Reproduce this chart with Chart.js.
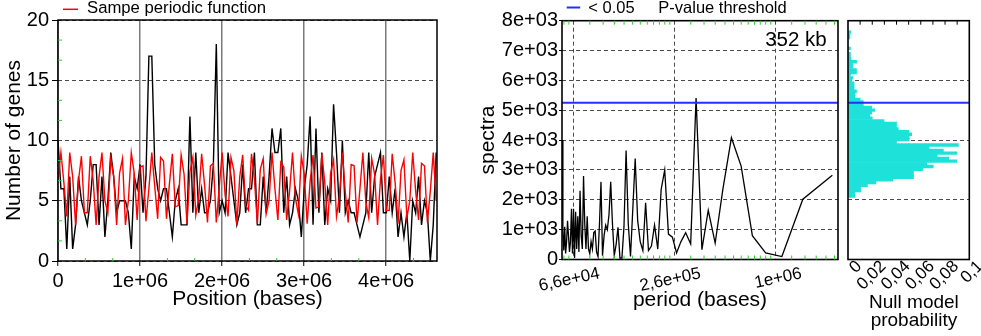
<!DOCTYPE html>
<html>
<head>
<meta charset="utf-8">
<title>Gene periodicity</title>
<script src="https://cdn.jsdelivr.net/npm/chart.js@4.4.1/dist/chart.umd.min.js"></script>
<style>
  html, body { margin: 0; padding: 0; background: #fff; }
  body { width: 981px; height: 336px; position: relative; overflow: hidden; }
  canvas { position: absolute; top: 0; }
  #genes { left: 0; }
  #spectrum { left: 470px; }
  #nullModel { left: 842px; }
</style>
</head>
<body>
<canvas id="genes" width="445" height="336"></canvas>
<canvas id="spectrum" width="372" height="336"></canvas>
<canvas id="nullModel" width="139" height="336"></canvas>
<script>
// ---------------- data ----------------
const WINDOW_BASES = 35736;            // genome window size (bases)
const GENOME_AXIS_MAX = 4620000;

const geneCounts = [
  10,6,6,1,7,1,3,7,5,4,3,5,8,8,3,7,2,5,9,7,4,5,5,5,4,1,7,6,8,4,7,17,17,
  8,6,5,6,6,4,2,5,6,3,3,3,12,4,9,4,6,4,4,5,8,18,4,5,4,9,7,5,3,4,8,
  4,6,6,9,3,3,7,4,7,11,9,9,11,4,7,3,4,6,5,2,6,8,12,3,11,4,9,3,6,5,13,9,4,10,
  4,5,4,4,3,2,3,4,9,4,7,8,9,4,4,7,4,6,2,4,2,4,0,5,4,7,3,5,4,0,3,9
];

const periodicFunction = [
  6.7,
  9,6.5,3.7,9,7,3,6.7,
  8.7,4,4,8.7,6.7,3,7,
  9,5,4,8.5,7,3,7.3,
  8.5,3,5,9,7.3,3.4,7.8,
  7.9,3.3,6,9,6.2,3.5,8.6,
  8.3,3.5,6.4,8.9,4.5,4.6,8.8,
  7.2,3.1,7.4,8.6,3.8,5.2,8.9,
  6.3,3.2,7.9,8.1,3.2,6.1,9,
  5.5,3.7,8.6,7.5,3,7,8.8,
  4.6,4.2,8.9,6.8,3.1,7.6,8.5,
  3.9,5,9,6,3.4,8.2,7.8,
  3.4,5.8,9,5.2,3.9,8.7,7.2,
  3.1,6.6,8.8,4.4,4.5,8.9,6.5,
  3,7.3,8.4,3.7,5.3,9,5.7,
  3.2,8,7.9,3.2,6,9,4.9,
  3.6,8.5,7.2,3,6.8,8.8,4.2,
  4.2,8.9,6.5,3.1,7.5,8.4,3.6,
  5,9,5.8,3.4,8.1,7.9,3.2,
  5.8,9,5
];
const positionTickValues = [0, 1000000, 2000000, 3000000, 4000000];
const positionTickLabels = ['0', '1e+06', '2e+06', '3e+06', '4e+06'];

const periods = [
  55854, 56543, 57250, 57975, 58718, 59481, 60263, 61067, 61892, 62740,
  63611, 64507, 65429, 66377, 67353, 68358, 69394, 70462, 71563, 72698,
  73871, 75082, 76333, 77627, 78966, 80351, 81786, 83273, 84815, 86415,
  88077, 89804, 91600, 93469, 95417, 97447, 99565, 101778, 104091, 106512,
  109048, 111707, 114500, 117436, 120526, 123784, 127222, 130857, 134706, 138788,
  143125, 147742, 152667, 157931, 163571, 169630, 176154, 183200, 190833, 199130,
  208182, 218095, 229000, 241053, 254444, 269412, 286250, 305333, 327143, 352308,
  381667, 416364, 458000, 508889, 572500, 654286, 763333, 916000, 1145000, 1526667,
  2290000
];
const spectra = [
  4000, 900, 300, 1100, 200, 600, 1300, 800, 250, 600,
  1700, 200, 1700, 50, 1600, 350, 1450, 250, 2300, 800,
  350, 2800, 1200, 350, 1450, 350, 200, 600, 350, 900,
  950, 250, 100, 1200, 2600, 130, 800, 1150, 1000, 1500,
  2600, 1200, 130, 500, 1080, 50, 50, 1100, 3650, 1200,
  100, 1700, 3380, 1300, 600, 300, 1900, 300, 450, 1150,
  350, 2350, 3000, 850, 750, 220, 600, 900, 520, 5410,
  330, 1650, 550, 2350, 4080, 3130, 800, 220, 100, 2020,
  2820
];
const pValueThreshold = 5250;
const PERIOD_AXIS_MIN = 55854;
const PERIOD_AXIS_MAX = 2475000;
const periodTickValues = [65500, 262000, 1048000];
const periodTickLabels = ['6,6e+04', '2,6e+05', '1e+06'];
const spectraTickLabels = ['0','1e+03','2e+03','3e+03','4e+03','5e+03','6e+03','7e+03','8e+03'];

const nullBinCenters = [
  2125, 2215, 2305, 2395, 2485, 2575, 2665, 2755, 2845, 2935,
  3025, 3115, 3205, 3295, 3385, 3475, 3565, 3655, 3745, 3835,
  3925, 4015, 4105, 4195, 4285, 4375, 4465, 4555, 4645, 4735,
  4825, 4915, 5005, 5095, 5185, 5275, 5365, 5455, 5545, 5635,
  5725, 5815, 5905, 5995, 6085, 6175, 6265, 6355, 6445, 6535,
  6625, 6715, 6805, 6895, 6985, 7075, 7165, 7255, 7345, 7435,
  7525, 7615
];
const nullProbability = [
  0.0058, 0.0058, 0.0104, 0.0104, 0.016, 0.023, 0.037, 0.054, 0.054, 0.054,
  0.0615, 0.0703, 0.065, 0.0896, 0.083, 0.0735, 0.0896, 0.0786, 0.0668, 0.091,
  0.040, 0.0505, 0.0505, 0.0525, 0.050, 0.0415, 0.040, 0.040, 0.0297, 0.020,
  0.018, 0.0195, 0.022, 0.0195, 0.0126, 0.0126, 0.010, 0.0058, 0.0058, 0.007,
  0.005, 0.005, 0.005, 0.003, 0.004, 0.002, 0.007, 0.007, 0.0038, 0.0038,
  0.0071, 0.0025, 0.002, 0.002, 0, 0.002, 0, 0, 0, 0.0016,
  0.0016, 0.0022
];
const probabilityTickLabels = ['0', '0,02', '0,04', '0,06', '0,08', '0,1'];

// ---------------- styling ----------------
const FONT = '"Liberation Sans", Arial, Helvetica, sans-serif';
const RED = '#ff0000';
const BLUE = '#2030ff';
const CYAN = '#1ee2da';
const GRID = '#4a4a4a';
const GREEN = '#2ecc2e';
Chart.defaults.font.family = FONT;
Chart.defaults.color = '#000';

const framePlugin = {
  id: 'frame',
  afterDatasetsDraw(chart, args, opts) {
    const {ctx, chartArea: a} = chart;
    ctx.save();
    ctx.strokeStyle = opts.color || '#000';
    ctx.lineWidth = opts.width || 1.5;
    ctx.strokeRect(a.left, a.top, a.right - a.left, a.bottom - a.top);
    ctx.restore();
  }
};

const minorTickPlugin = {
  id: 'minorTicks',
  afterDatasetsDraw(chart, args, opts) {
    const {ctx, chartArea: a} = chart;
    ctx.save();
    (opts.marks || []).forEach(m => {
      const scale = chart.scales[m.axis];
      ctx.strokeStyle = m.color;
      ctx.lineWidth = m.width || 1;
      ctx.beginPath();
      m.values.forEach(v => {
        const p = scale.getPixelForValue(v);
        if (m.side === 'left') { ctx.moveTo(a.left, p); ctx.lineTo(a.left + m.len, p); }
        else if (m.side === 'right') { ctx.moveTo(a.right, p); ctx.lineTo(a.right - m.len, p); }
        else if (m.side === 'top') { ctx.moveTo(p, a.top); ctx.lineTo(p, a.top + m.len); }
        else { ctx.moveTo(p, a.bottom); ctx.lineTo(p, a.bottom - m.len); }
      });
      ctx.stroke();
    });
    ctx.restore();
  }
};

const labelPlugin = {
  id: 'keyLabels',
  afterDraw(chart, args, opts) {
    const ctx = chart.ctx;
    ctx.save();
    (opts.keys || []).forEach(k => {
      ctx.strokeStyle = k.color;
      ctx.lineWidth = k.width || 1.5;
      ctx.beginPath();
      ctx.moveTo(k.x, k.y);
      ctx.lineTo(k.x + k.len, k.y);
      ctx.stroke();
    });
    (opts.texts || []).forEach(t => {
      ctx.font = t.size + 'px ' + FONT;
      ctx.fillStyle = '#000';
      ctx.textAlign = t.align || 'left';
      ctx.textBaseline = 'middle';
      ctx.fillText(t.text, t.x, t.y);
    });
    ctx.restore();
  }
};

function fixX(height) {
  return s => { s.height = height; s.paddingLeft = 0; s.paddingRight = 0; };
}
function fixY(width) {
  return s => { s.width = width; s.paddingTop = 0; s.paddingBottom = 0; };
}
function minorBetween(step, parts, max, skipEvery) {
  const out = [];
  for (let k = 1; k * step / parts < max; k++) {
    if (k % skipEvery !== 0) out.push(k * step / parts);
  }
  return out;
}

const common = {
  responsive: false,
  animation: false,
  devicePixelRatio: 1,
  events: [],
};

// ---------------- panel 1: genes along the genome ----------------
const positions = geneCounts.map((_, i) => i * WINDOW_BASES);

new Chart(document.getElementById('genes'), {
  type: 'line',
  data: {
    datasets: [
      {
        label: 'Sampe periodic function',
        data: periodicFunction.map((v, i) => ({x: positions[i], y: v})),
        borderColor: RED, borderWidth: 1.4, pointRadius: 0, tension: 0
      },
      {
        label: 'Number of genes',
        data: geneCounts.map((v, i) => ({x: positions[i], y: v})),
        borderColor: '#000', borderWidth: 1.4, pointRadius: 0, tension: 0
      }
    ]
  },
  options: Object.assign({}, common, {
    layout: { padding: { top: 20, right: 8, bottom: 24.4, left: 0 } },
    plugins: {
      legend: { display: false },
      tooltip: { enabled: false },
      frame: { width: 1.5 },
      minorTicks: {
        marks: [
          { axis: 'y', side: 'left', len: 4, color: GREEN, values: minorBetween(5, 3, 20, 3) },
          { axis: 'x', side: 'bottom', len: 3, color: GREEN, values: minorBetween(1000000, 3, GENOME_AXIS_MAX, 3) }
        ]
      },
      keyLabels: {
        keys: [{ x: 63, y: 9.3, len: 15, color: RED }],
        texts: [{ text: 'Sampe periodic function', x: 87, y: 8.5, size: 16.7 }]
      }
    },
    scales: {
      x: {
        type: 'linear', min: 0, max: GENOME_AXIS_MAX,
        afterBuildTicks: s => { s.ticks = positionTickValues.map(v => ({value: v})); },
        ticks: { callback: (v, i) => positionTickLabels[i], font: {size: 20}, padding: 3, maxRotation: 0, autoSkip: false },
        grid: { color: '#7a7a7a', lineWidth: 1.5, tickLength: 5, tickColor: '#000', tickWidth: 1 },
        border: { display: false },
        title: { display: true, text: 'Position (bases)', font: {size: 21}, padding: 0 },
        afterFit: fixX(50.6)
      },
      y: {
        min: 0, max: 20,
        ticks: { stepSize: 5, font: {size: 20}, padding: 3 },
        grid: { color: GRID, lineWidth: 1, tickLength: 6, tickColor: '#000', tickBorderDash: [] },
        border: { display: false, dash: [4, 3] },
        title: { display: true, text: 'Number of genes', font: {size: 21}, padding: {top: 1.5} },
        afterFit: fixY(58)
      }
    }
  }),
  plugins: [framePlugin, minorTickPlugin, labelPlugin]
});

// ---------------- panel 2: spectrum ----------------
const logMinor = [];
[16375, 65500, 262000, 1048000].forEach(M => {
  for (let n = 1; n <= 11; n++) {
    const v = M * (1 + 0.25 * n);
    if (v > PERIOD_AXIS_MIN && v < PERIOD_AXIS_MAX) logMinor.push(v);
  }
});

new Chart(document.getElementById('spectrum'), {
  type: 'line',
  data: {
    datasets: [
      {
        label: '< 0.05',
        data: [{x: PERIOD_AXIS_MIN, y: pValueThreshold}, {x: PERIOD_AXIS_MAX, y: pValueThreshold}],
        borderColor: BLUE, borderWidth: 2, pointRadius: 0
      },
      {
        label: 'spectra',
        data: periods.map((p, i) => ({x: p, y: spectra[i]})),
        borderColor: '#000', borderWidth: 1.3, pointRadius: 0, tension: 0
      }
    ]
  },
  options: Object.assign({}, common, {
    layout: { padding: { top: 20.7, right: 4, bottom: 23.4, left: 0 } },
    plugins: {
      legend: { display: false },
      tooltip: { enabled: false },
      frame: { width: 1.6 },
      minorTicks: {
        marks: [
          { axis: 'x', side: 'top', len: 4, color: GREEN, values: logMinor },
          { axis: 'x', side: 'bottom', len: 4, color: GREEN, values: logMinor },
          { axis: 'y', side: 'right', len: 5, color: '#000', values: minorBetween(1000, 2, 8000, 1) }
        ]
      },
      keyLabels: {
        keys: [{ x: 96.7, y: 7.5, len: 13.5, color: BLUE, width: 2 }],
        texts: [
          { text: '< 0.05', x: 118.3, y: 8, size: 16.5 },
          { text: 'P-value threshold', x: 188.3, y: 8, size: 16.5 },
          { text: '352 kb', x: 356.7, y: 40, size: 20.5, align: 'right' }
        ]
      }
    },
    scales: {
      x: {
        type: 'logarithmic', min: PERIOD_AXIS_MIN, max: PERIOD_AXIS_MAX,
        afterBuildTicks: s => { s.ticks = periodTickValues.map(v => ({value: v})); },
        ticks: { callback: (v, i) => periodTickLabels[i], font: {size: 17}, padding: 4,
                 minRotation: 12, maxRotation: 12, labelOffset: 26, autoSkip: false },
        grid: { color: GRID, lineWidth: 1, drawTicks: false },
        border: { display: false, dash: [4, 3] },
        title: { display: true, text: 'period (bases)', font: {size: 21}, padding: 0 },
        afterFit: fixX(53.1)
      },
      y: {
        min: 0, max: 8000,
        ticks: { stepSize: 1000, callback: (v, i) => spectraTickLabels[i], font: {size: 20}, padding: 1 },
        grid: { color: GRID, lineWidth: 1, tickLength: 3, tickColor: '#000', tickBorderDash: [] },
        border: { display: false, dash: [4, 3] },
        title: { display: true, text: 'spectra', font: {size: 21}, padding: {top: 5.7} },
        afterFit: fixY(92)
      }
    }
  }),
  plugins: [framePlugin, minorTickPlugin, labelPlugin]
});

// ---------------- panel 3: null model histogram ----------------
new Chart(document.getElementById('nullModel'), {
  type: 'bar',
  data: {
    datasets: [
      {
        type: 'line',
        label: '< 0.05',
        data: [{x: 0, y: pValueThreshold}, {x: 0.1, y: pValueThreshold}],
        borderColor: BLUE, borderWidth: 2, pointRadius: 0
      },
      {
        type: 'bar',
        label: 'Null model probability',
        data: nullBinCenters.map((c, i) => ({x: nullProbability[i], y: c})),
        backgroundColor: CYAN, borderWidth: 0,
        barPercentage: 1, categoryPercentage: 1
      }
    ]
  },
  options: Object.assign({}, common, {
    indexAxis: 'y',
    layout: { padding: { top: 20.7, right: 11.7, bottom: 3, left: 0 } },
    plugins: {
      legend: { display: false },
      tooltip: { enabled: false },
      frame: { width: 1.6 },
      minorTicks: {
        marks: [
          { axis: 'x', side: 'top', len: 4, color: '#000', values: minorBetween(0.1, 10, 0.1, 10) },
          { axis: 'y', side: 'right', len: 4, color: '#000', values: minorBetween(1000, 2, 8000, 1) }
        ]
      }
    },
    scales: {
      x: {
        type: 'linear', min: 0, max: 0.1, offset: false,
        ticks: { stepSize: 0.02, callback: (v, i) => probabilityTickLabels[i], font: {size: 17},
                 padding: -3, labelOffset: 11, minRotation: 45, maxRotation: 45, autoSkip: false },
        grid: { drawOnChartArea: false, drawTicks: false },
        border: { display: false },
        title: { display: true, text: ['  Null model', '  probability'],
                 font: {size: 19, lineHeight: 0.97}, padding: {top: 0, bottom: 3} },
        afterFit: fixX(73.5)
      },
      y: {
        type: 'linear', min: 0, max: 8000, offset: false,
        ticks: { display: false, stepSize: 2000 },
        grid: { offset: false, drawTicks: false, lineWidth: 1,
                color: c => (c.tick && (c.tick.value === 0 || c.tick.value === 8000)) ? 'rgba(0,0,0,0)' : GRID },
        border: { display: false, dash: [4, 3] },
        afterFit: fixY(6)
      }
    }
  }),
  plugins: [framePlugin, minorTickPlugin]
});
</script>
</body>
</html>
